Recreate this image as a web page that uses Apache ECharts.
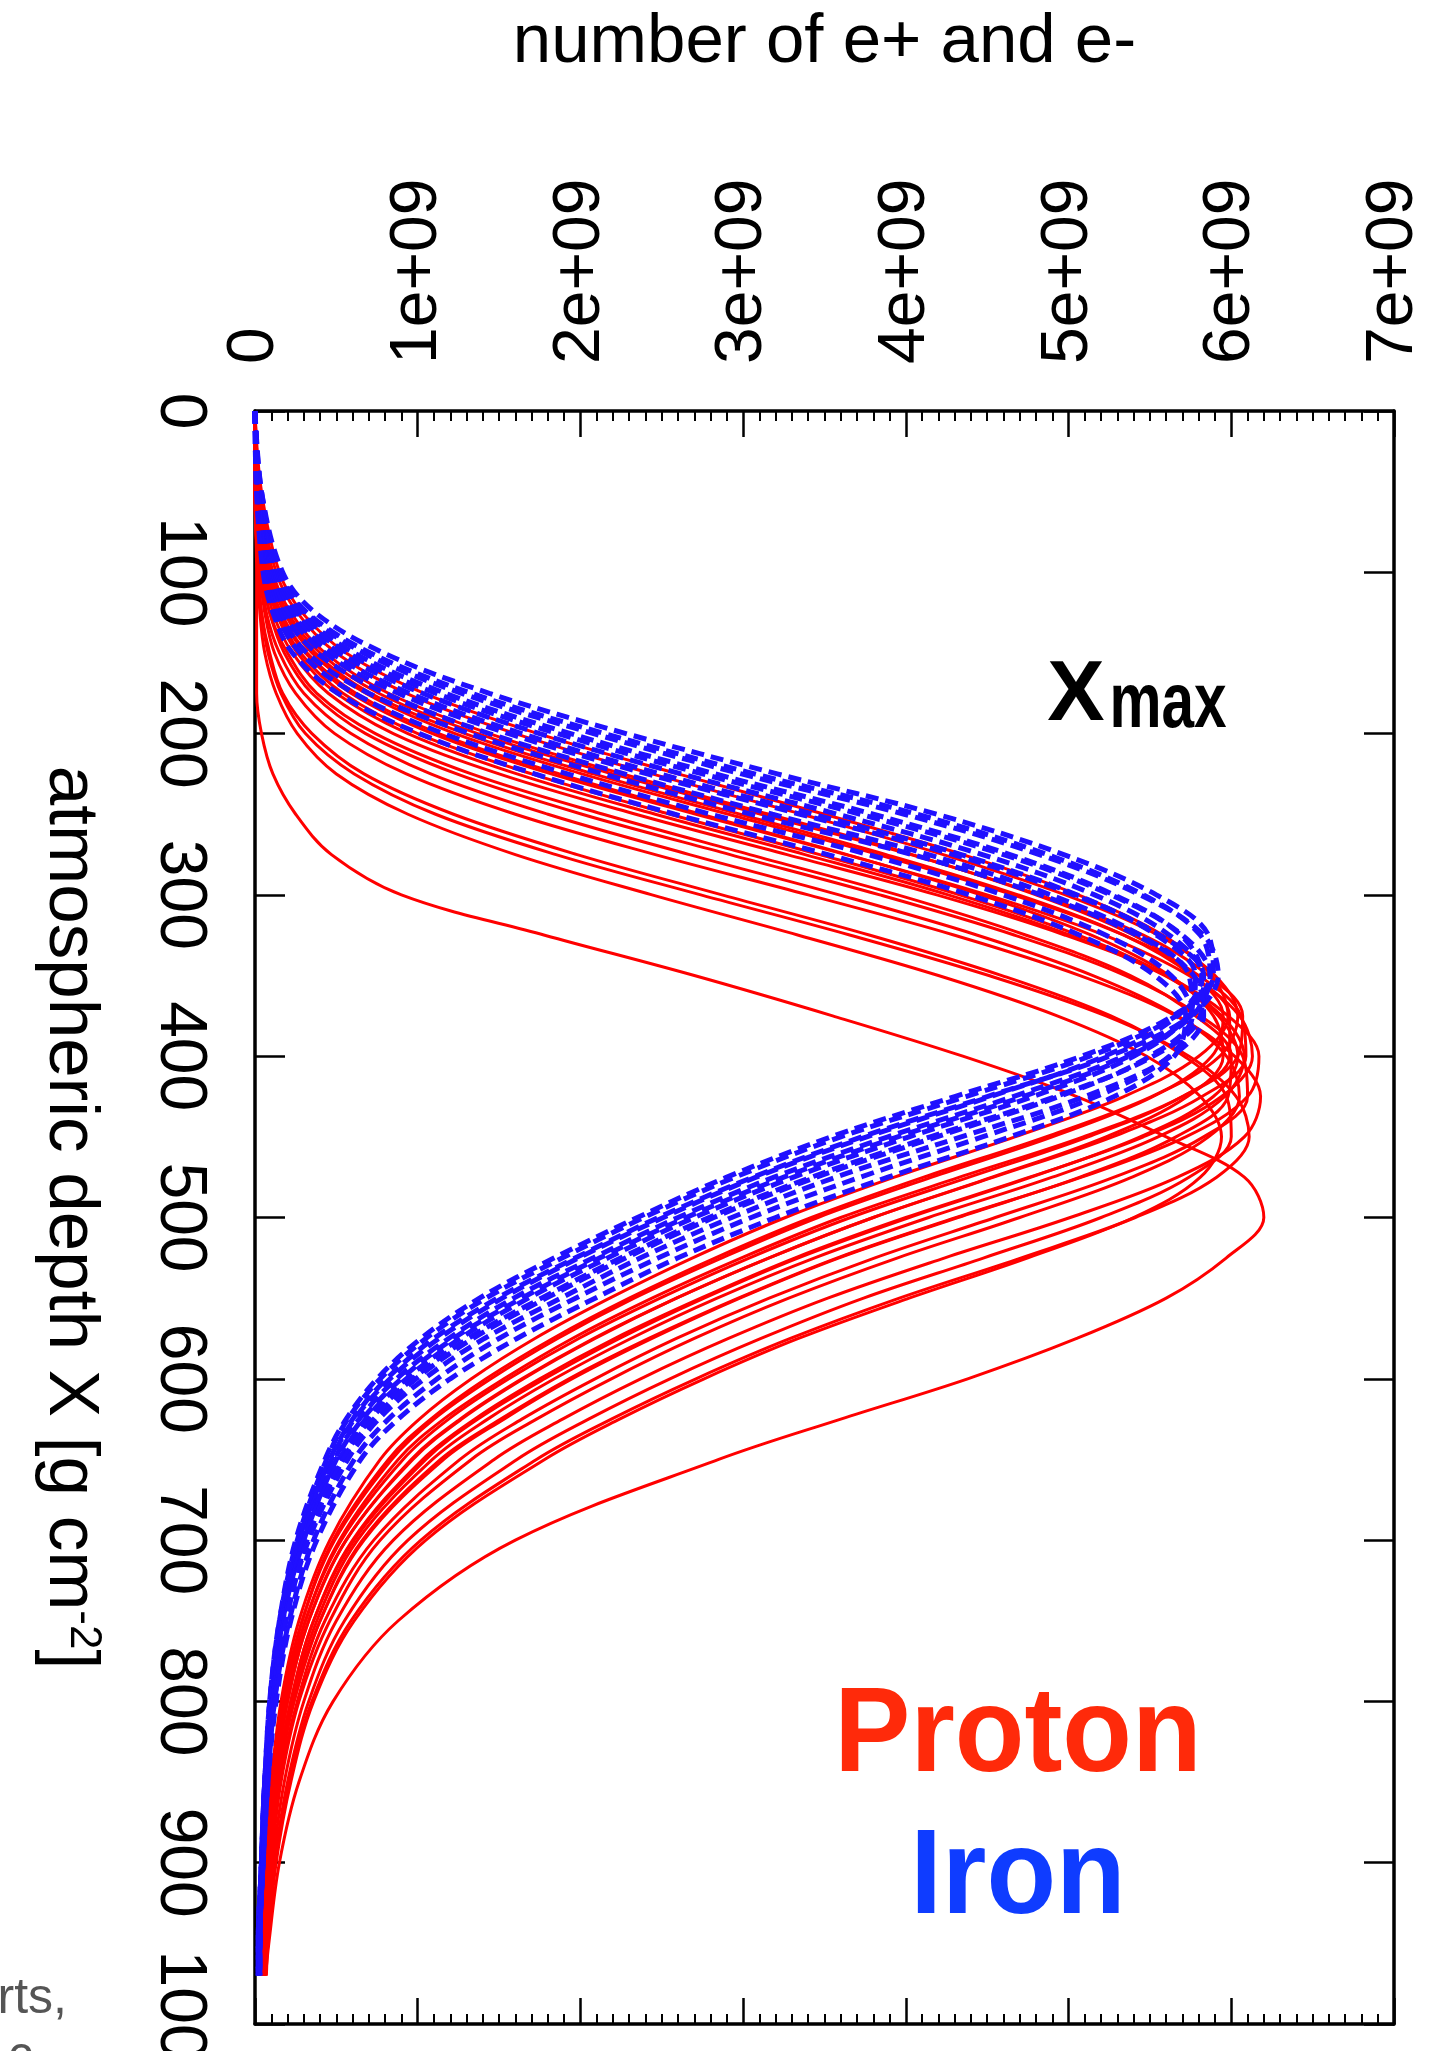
<!DOCTYPE html>
<html>
<head>
<meta charset="utf-8">
<title>number of e+ and e-</title>
<script src="https://cdn.jsdelivr.net/npm/echarts@6/dist/echarts.min.js"></script>
<style>
html, body { margin: 0; padding: 0; background: #fff; overflow: hidden; }
#chart { width: 1430px; height: 2051px; }
</style>
</head>
<body>
<div id="chart"></div>
<script>
// atmospheric depth X [g cm^-2], shared by every shower profile
var DEPTH = [0, 50, 100, 125, 150, 175, 200, 225, 250, 275, 300, 325, 350, 375, 400, 425,
    450, 475, 500, 525, 550, 575, 600, 625, 650, 700, 750, 800, 850, 900, 950, 970];

// number of e+ and e- (unit 1e+09), proton showers (red, solid)
var P01 = [0, 0.04, 0.15, 0.29, 0.56, 1.04, 1.74, 2.60, 3.50, 4.35, 5.06, 5.58, 5.88, 5.98, 5.80, 5.34, 4.67, 3.93, 3.26, 2.69, 2.18, 1.72, 1.33, 1.01, 0.77, 0.46, 0.27, 0.16, 0.10, 0.06, 0.04, 0.03];
var P02 = [0, 0.03, 0.13, 0.26, 0.50, 0.93, 1.60, 2.44, 3.36, 4.23, 4.98, 5.55, 5.90, 6.04, 5.93, 5.51, 4.86, 4.11, 3.42, 2.83, 2.30, 1.83, 1.42, 1.08, 0.82, 0.48, 0.29, 0.17, 0.10, 0.06, 0.04, 0.03];
var P03 = [0, 0.03, 0.11, 0.22, 0.43, 0.82, 1.44, 2.26, 3.16, 4.04, 4.80, 5.40, 5.77, 5.95, 5.88, 5.52, 4.90, 4.16, 3.46, 2.87, 2.33, 1.86, 1.45, 1.10, 0.84, 0.49, 0.29, 0.17, 0.10, 0.06, 0.04, 0.03];
var P04 = [0, 0.02, 0.10, 0.20, 0.40, 0.76, 1.37, 2.20, 3.11, 4.03, 4.82, 5.46, 5.86, 6.07, 6.04, 5.70, 5.09, 4.33, 3.60, 2.99, 2.44, 1.95, 1.53, 1.16, 0.88, 0.52, 0.31, 0.18, 0.11, 0.07, 0.04, 0.04];
var P05 = [0, 0.02, 0.09, 0.19, 0.37, 0.71, 1.29, 2.08, 2.98, 3.88, 4.69, 5.34, 5.76, 5.99, 5.99, 5.70, 5.12, 4.39, 3.66, 3.04, 2.49, 1.99, 1.56, 1.19, 0.91, 0.53, 0.31, 0.19, 0.11, 0.07, 0.04, 0.04];
var P06 = [0, 0.02, 0.09, 0.18, 0.35, 0.68, 1.23, 2.01, 2.91, 3.83, 4.66, 5.34, 5.80, 6.06, 6.09, 5.82, 5.27, 4.54, 3.80, 3.16, 2.59, 2.08, 1.64, 1.26, 0.96, 0.56, 0.33, 0.20, 0.12, 0.07, 0.05, 0.04];
var P07 = [0, 0.02, 0.08, 0.16, 0.32, 0.62, 1.13, 1.87, 2.74, 3.64, 4.46, 5.14, 5.62, 5.89, 5.95, 5.73, 5.23, 4.53, 3.80, 3.16, 2.59, 2.09, 1.65, 1.27, 0.97, 0.56, 0.33, 0.20, 0.12, 0.07, 0.05, 0.04];
var P08 = [0, 0.02, 0.08, 0.15, 0.31, 0.59, 1.09, 1.82, 2.71, 3.63, 4.50, 5.22, 5.74, 6.05, 6.13, 5.94, 5.46, 4.76, 4.00, 3.32, 2.74, 2.21, 1.75, 1.35, 1.03, 0.60, 0.36, 0.22, 0.13, 0.08, 0.05, 0.04];
var P09 = [0, 0.02, 0.07, 0.14, 0.28, 0.54, 1.00, 1.70, 2.55, 3.47, 4.33, 5.06, 5.60, 5.92, 6.04, 5.89, 5.44, 4.77, 4.02, 3.34, 2.76, 2.24, 1.78, 1.37, 1.05, 0.61, 0.36, 0.22, 0.13, 0.08, 0.05, 0.04];
var P10 = [0, 0.02, 0.06, 0.13, 0.26, 0.50, 0.94, 1.61, 2.46, 3.38, 4.26, 5.01, 5.59, 5.94, 6.08, 5.96, 5.55, 4.90, 4.14, 3.44, 2.84, 2.31, 1.84, 1.43, 1.09, 0.63, 0.38, 0.23, 0.13, 0.08, 0.05, 0.04];
var P11 = [0, 0.01, 0.06, 0.11, 0.23, 0.45, 0.85, 1.50, 2.34, 3.27, 4.19, 4.98, 5.60, 5.98, 6.17, 6.10, 5.72, 5.08, 4.31, 3.58, 2.97, 2.42, 1.93, 1.51, 1.14, 0.66, 0.40, 0.24, 0.14, 0.08, 0.05, 0.04];
var P12 = [0, 0.01, 0.05, 0.09, 0.20, 0.38, 0.74, 1.33, 2.14, 3.04, 3.95, 4.74, 5.38, 5.78, 6.00, 5.98, 5.66, 5.07, 4.32, 3.59, 2.98, 2.44, 1.95, 1.53, 1.16, 0.67, 0.40, 0.24, 0.14, 0.09, 0.05, 0.05];
var P13 = [0, 0.01, 0.04, 0.09, 0.18, 0.35, 0.68, 1.24, 2.01, 2.92, 3.84, 4.67, 5.35, 5.81, 6.07, 6.10, 5.83, 5.28, 4.55, 3.81, 3.16, 2.59, 2.09, 1.64, 1.26, 0.73, 0.43, 0.26, 0.15, 0.09, 0.06, 0.05];
var P14 = [0, 0.01, 0.04, 0.07, 0.15, 0.30, 0.59, 1.08, 1.80, 2.67, 3.59, 4.44, 5.15, 5.67, 5.97, 6.05, 5.86, 5.39, 4.70, 3.95, 3.28, 2.70, 2.19, 1.73, 1.33, 0.77, 0.46, 0.27, 0.16, 0.10, 0.06, 0.05];
var P15 = [0, 0.01, 0.03, 0.06, 0.12, 0.25, 0.49, 0.93, 1.60, 2.46, 3.40, 4.30, 5.07, 5.66, 6.02, 6.18, 6.08, 5.67, 5.01, 4.24, 3.52, 2.91, 2.37, 1.89, 1.47, 0.85, 0.50, 0.30, 0.18, 0.11, 0.07, 0.06];
var P16 = [0, 0, 0.02, 0.04, 0.09, 0.17, 0.35, 0.67, 1.22, 1.98, 2.87, 3.78, 4.59, 5.26, 5.71, 5.97, 6.00, 5.74, 5.20, 4.48, 3.74, 3.11, 2.55, 2.05, 1.61, 0.94, 0.55, 0.33, 0.20, 0.12, 0.07, 0.06];
var P17 = [0, 0, 0.02, 0.04, 0.08, 0.16, 0.31, 0.61, 1.11, 1.85, 2.74, 3.66, 4.51, 5.23, 5.74, 6.03, 6.11, 5.91, 5.41, 4.71, 3.96, 3.29, 2.71, 2.19, 1.73, 1.02, 0.59, 0.35, 0.21, 0.12, 0.08, 0.06];
var P18 = [0, 0, 0.02, 0.03, 0.06, 0.13, 0.26, 0.50, 0.94, 1.60, 2.44, 3.34, 4.20, 4.93, 5.48, 5.81, 5.94, 5.81, 5.40, 4.75, 4.02, 3.34, 2.76, 2.24, 1.78, 1.05, 0.61, 0.36, 0.22, 0.13, 0.08, 0.07];
var P19 = [0, 0, 0.01, 0.01, 0.01, 0.01, 0.04, 0.11, 0.25, 0.47, 0.90, 1.78, 2.70, 3.55, 4.35, 5.05, 5.60, 6.08, 6.20, 5.97, 5.60, 5.05, 4.38, 3.60, 2.85, 1.60, 0.88, 0.48, 0.27, 0.15, 0.085, 0.065];

// iron showers (blue, dotted)
var FE01 = [0, 0.04, 0.17, 0.37, 0.79, 1.44, 2.28, 3.21, 4.19, 4.97, 5.54, 5.86, 5.89, 5.64, 5.08, 4.30, 3.54, 2.90, 2.35, 1.84, 1.38, 1.02, 0.75, 0.56, 0.43, 0.25, 0.15, 0.09, 0.06, 0.04, 0.02, 0.02];
var FE02 = [0, 0.04, 0.15, 0.32, 0.71, 1.33, 2.15, 3.07, 4.07, 4.87, 5.46, 5.81, 5.87, 5.66, 5.13, 4.37, 3.60, 2.95, 2.39, 1.89, 1.42, 1.05, 0.77, 0.57, 0.44, 0.26, 0.15, 0.09, 0.06, 0.04, 0.02, 0.02];
var FE03 = [0, 0.03, 0.14, 0.31, 0.67, 1.27, 2.08, 2.99, 3.99, 4.82, 5.44, 5.83, 5.92, 5.75, 5.25, 4.50, 3.73, 3.06, 2.48, 1.97, 1.49, 1.10, 0.81, 0.60, 0.46, 0.27, 0.16, 0.10, 0.06, 0.04, 0.02, 0.02];
var FE04 = [0, 0.03, 0.13, 0.28, 0.61, 1.17, 1.94, 2.83, 3.80, 4.64, 5.28, 5.69, 5.82, 5.67, 5.22, 4.52, 3.76, 3.08, 2.51, 1.99, 1.52, 1.13, 0.83, 0.61, 0.47, 0.28, 0.16, 0.10, 0.06, 0.04, 0.02, 0.02];
var FE05 = [0, 0.03, 0.12, 0.26, 0.57, 1.11, 1.86, 2.75, 3.72, 4.60, 5.26, 5.70, 5.87, 5.76, 5.34, 4.66, 3.89, 3.19, 2.60, 2.08, 1.59, 1.19, 0.87, 0.64, 0.49, 0.29, 0.17, 0.10, 0.06, 0.04, 0.03, 0.02];
var FE06 = [0, 0.03, 0.11, 0.24, 0.52, 1.03, 1.75, 2.62, 3.58, 4.47, 5.16, 5.62, 5.82, 5.74, 5.37, 4.72, 3.95, 3.25, 2.65, 2.12, 1.64, 1.22, 0.90, 0.66, 0.50, 0.30, 0.17, 0.11, 0.06, 0.04, 0.03, 0.02];
var FE07 = [0, 0.02, 0.10, 0.22, 0.47, 0.95, 1.64, 2.49, 3.43, 4.34, 5.05, 5.54, 5.78, 5.73, 5.40, 4.78, 4.02, 3.31, 2.70, 2.17, 1.68, 1.26, 0.93, 0.68, 0.52, 0.30, 0.18, 0.11, 0.07, 0.04, 0.03, 0.02];
var FE08 = [0, 0.02, 0.09, 0.20, 0.43, 0.88, 1.56, 2.41, 3.35, 4.29, 5.03, 5.56, 5.83, 5.81, 5.52, 4.92, 4.15, 3.42, 2.79, 2.25, 1.76, 1.31, 0.97, 0.71, 0.54, 0.32, 0.18, 0.11, 0.07, 0.04, 0.03, 0.02];
var FE09 = [0, 0.02, 0.08, 0.17, 0.38, 0.80, 1.44, 2.27, 3.18, 4.14, 4.89, 5.44, 5.74, 5.76, 5.50, 4.94, 4.19, 3.45, 2.82, 2.28, 1.79, 1.34, 0.99, 0.73, 0.54, 0.32, 0.19, 0.11, 0.07, 0.05, 0.03, 0.03];
var FE10 = [0, 0.02, 0.07, 0.15, 0.32, 0.70, 1.32, 2.14, 3.05, 4.04, 4.83, 5.42, 5.77, 5.83, 5.63, 5.10, 4.34, 3.57, 2.93, 2.37, 1.88, 1.41, 1.04, 0.76, 0.57, 0.33, 0.19, 0.12, 0.07, 0.05, 0.03, 0.03];
var FE11 = [0, 0.01, 0.06, 0.13, 0.28, 0.61, 1.16, 1.92, 2.80, 3.77, 4.60, 5.23, 5.63, 5.76, 5.62, 5.17, 4.47, 3.72, 3.05, 2.48, 1.97, 1.50, 1.12, 0.82, 0.61, 0.36, 0.21, 0.12, 0.08, 0.05, 0.03, 0.03];
var FE12 = [0, 0.01, 0.05, 0.11, 0.23, 0.51, 1.01, 1.72, 2.58, 3.52, 4.39, 5.07, 5.53, 5.72, 5.65, 5.28, 4.64, 3.89, 3.20, 2.60, 2.09, 1.61, 1.20, 0.88, 0.65, 0.38, 0.22, 0.13, 0.08, 0.05, 0.03, 0.03];

var PROTON = [P01, P02, P03, P04, P05, P06, P07, P08, P09, P10, P11, P12, P13, P14, P15, P16, P17, P18, P19];
var IRON = [FE01, FE02, FE03, FE04, FE05, FE06, FE07, FE08, FE09, FE10, FE11, FE12];

var COUNT_LABELS = ['0', '1e+09', '2e+09', '3e+09', '4e+09', '5e+09', '6e+09', '7e+09'];

var FONT = 'Liberation Sans, Arial, Helvetica, sans-serif';

var chart = echarts.init(document.getElementById('chart'));

function toPoints(counts) {
    return counts.map(function (c, i) { return [c, DEPTH[i]]; });
}

var seriesList = [];
PROTON.forEach(function (p) {
    seriesList.push({
        type: 'line',
        data: toPoints(p),
        smooth: 0.35,
        symbol: 'none',
        silent: true,
        z: 2,
        lineStyle: { color: '#ff0000', width: 3 }
    });
});
IRON.forEach(function (fe) {
    seriesList.push({
        type: 'line',
        data: toPoints(fe),
        smooth: 0.35,
        symbol: 'none',
        silent: true,
        z: 3,
        lineStyle: { color: '#2010ff', width: 5, type: [13, 7] }
    });
});

var frameLine = { show: true, onZero: false, lineStyle: { color: '#000', width: 3.5 } };

var option = {
    animation: false,
    backgroundColor: '#fff',
    grid: { left: 255, right: 36, top: 411, bottom: 27, containLabel: false, outerBoundsMode: 'none' },
    xAxis: [{
        type: 'value',
        position: 'top',
        min: 0,
        max: 7,
        interval: 1,
        axisLine: frameLine,
        axisTick: { inside: true, length: 26, lineStyle: { color: '#000', width: 2.5 } },
        minorTick: { show: true, splitNumber: 10, length: 10, lineStyle: { color: '#000', width: 2 } },
        splitLine: { show: false },
        axisLabel: {
            rotate: -90,
            margin: 47,
            fontSize: 66,
            fontFamily: FONT,
            color: '#000',
            formatter: function (v) { return COUNT_LABELS[Math.round(v)]; }
        },
        name: 'number of e+ and e-',
        nameLocation: 'middle',
        nameGap: 334,
        nameTextStyle: { fontSize: 69, fontFamily: FONT, color: '#000' }
    }, {
        type: 'value',
        position: 'bottom',
        min: 0,
        max: 7,
        interval: 1,
        axisLine: frameLine,
        axisTick: { inside: true, length: 26, lineStyle: { color: '#000', width: 2.5 } },
        minorTick: { show: true, splitNumber: 10, length: 10, lineStyle: { color: '#000', width: 2 } },
        splitLine: { show: false },
        axisLabel: { show: false }
    }],
    yAxis: [{
        type: 'value',
        position: 'left',
        inverse: true,
        min: 0,
        max: 1000,
        interval: 100,
        axisLine: frameLine,
        axisTick: { inside: true, length: 30, lineStyle: { color: '#000', width: 2.5 } },
        splitLine: { show: false },
        axisLabel: {
            rotate: -90, margin: 43, fontSize: 66, fontFamily: FONT, color: '#000',
            formatter: function (v) { return String(v); }
        },
        name: '{t|atmospheric depth X [g cm}{s|-2}{t|]}',
        nameLocation: 'middle',
        nameRotate: -90,
        nameGap: 150,
        nameTextStyle: {
            fontFamily: FONT,
            color: '#000',
            rich: {
                t: { fontSize: 71, fontFamily: FONT, color: '#000' },
                s: { fontSize: 44, fontFamily: FONT, color: '#000', verticalAlign: 'top' }
            }
        }
    }, {
        type: 'value',
        position: 'right',
        inverse: true,
        min: 0,
        max: 1000,
        interval: 100,
        axisLine: frameLine,
        axisTick: { inside: true, length: 30, lineStyle: { color: '#000', width: 2.5 } },
        splitLine: { show: false },
        axisLabel: { show: false }
    }],
    graphic: [
        { type: 'text', x: 1076, y: 696, z: 10,
          style: { text: 'X', fontSize: 86, fontWeight: 'bold', fontFamily: FONT, fill: '#000', textAlign: 'center', textVerticalAlign: 'middle' } },
        { type: 'text', x: 1168, y: 706, scaleX: 0.76, z: 10,
          style: { text: 'max', fontSize: 77, fontWeight: 'bold', fontFamily: FONT, fill: '#000', textAlign: 'center', textVerticalAlign: 'middle' } },
        { type: 'text', x: 1018, y: 1738, scaleX: 0.95, z: 10,
          style: { text: 'Proton', fontSize: 120, fontWeight: 'bold', fontFamily: FONT, fill: '#ff2a0a', textAlign: 'center', textVerticalAlign: 'middle' } },
        { type: 'text', x: 1018, y: 1880, scaleX: 0.95, z: 10,
          style: { text: 'Iron', fontSize: 120, fontWeight: 'bold', fontFamily: FONT, fill: '#0f3cff', textAlign: 'center', textVerticalAlign: 'middle' } },
        { type: 'text', x: 67, y: 1999, z: 10,
          style: { text: 'rts,', fontSize: 50, fontFamily: FONT, fill: '#555', textAlign: 'right', textVerticalAlign: 'middle' } },
        { type: 'text', x: 8, y: 2057, z: 10,
          style: { text: 'c', fontSize: 50, fontFamily: FONT, fill: '#555', textAlign: 'left', textVerticalAlign: 'middle' } }
    ],
    series: seriesList
};

chart.setOption(option);
</script>
</body>
</html>
